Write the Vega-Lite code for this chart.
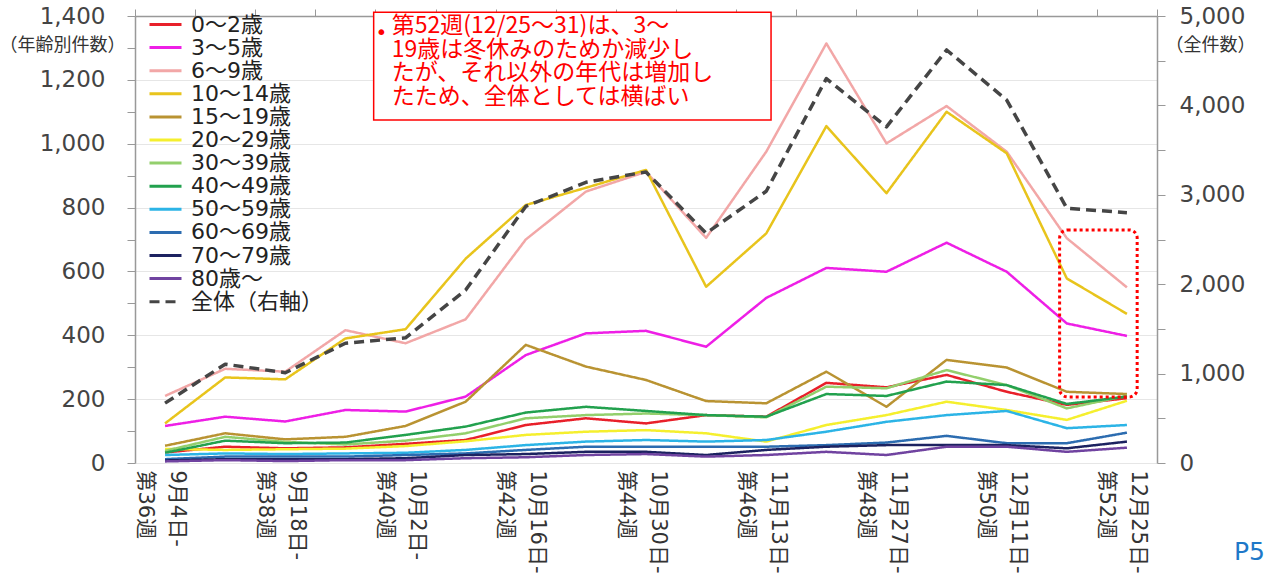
{
  "$schema": "https://vega.github.io/schema/vega-lite/v6.json",
  "width": 1022,
  "height": 447,
  "autosize": {"type": "none"},
  "padding": {"left": 135, "top": 16, "right": 121, "bottom": 110},
  "background": "white",
  "config": {
    "view": {"stroke": null},
    "font": "DejaVu Sans, Noto Sans CJK JP",
    "line": {"strokeJoin": "round", "strokeCap": "butt"}
  },
  "title": {
    "text": "P5",
    "orient": "bottom",
    "anchor": "end",
    "frame": "group",
    "color": "#1e78c8",
    "fontSize": 25,
    "fontWeight": "normal",
    "font": "DejaVu Sans",
    "dx": 108,
    "offset": -33
  },
  "datasets": {
    "weekly": [
      {"week": 36, "0～2歳": 33, "3～5歳": 116, "6～9歳": 210, "10～14歳": 124, "15～19歳": 54, "20～29歳": 44, "30～39歳": 38, "40～49歳": 32, "50～59歳": 25, "60～69歳": 12, "70～79歳": 8, "80歳～": 5, "全体（右軸）": 670},
      {"week": 37, "0～2歳": 51, "3～5歳": 145, "6～9歳": 295, "10～14歳": 268, "15～19歳": 93, "20～29歳": 41, "30～39歳": 82, "40～49歳": 70, "50～59歳": 30, "60～69歳": 20, "70～79歳": 12, "80歳～": 9, "全体（右軸）": 1105},
      {"week": 38, "0～2歳": 46, "3～5歳": 130, "6～9歳": 286, "10～14歳": 262, "15～19歳": 74, "20～29歳": 43, "30～39歳": 66, "40～49歳": 62, "50～59歳": 28, "60～69歳": 20, "70～79歳": 12, "80歳～": 6, "全体（右軸）": 1010},
      {"week": 39, "0～2歳": 49, "3～5歳": 166, "6～9歳": 416, "10～14歳": 390, "15～19歳": 82, "20～29歳": 45, "30～39歳": 58, "40～49歳": 64, "50～59歳": 30, "60～69歳": 20, "70～79歳": 12, "80歳～": 9, "全体（右軸）": 1340},
      {"week": 40, "0～2歳": 60, "3～5歳": 161, "6～9歳": 375, "10～14歳": 419, "15～19歳": 116, "20～29歳": 53, "30～39歳": 70, "40～49歳": 88, "50～59歳": 32, "60～69歳": 25, "70～79歳": 15, "80歳～": 9, "全体（右軸）": 1400},
      {"week": 41, "0～2歳": 72, "3～5歳": 208, "6～9歳": 450, "10～14歳": 640, "15～19歳": 192, "20～29歳": 68, "30～39歳": 93, "40～49歳": 114, "50～59歳": 41, "60～69歳": 30, "70～79歳": 25, "80歳～": 15, "全体（右軸）": 1935},
      {"week": 42, "0～2歳": 119, "3～5歳": 338, "6～9歳": 700, "10～14歳": 808, "15～19歳": 370, "20～29歳": 88, "30～39歳": 140, "40～49歳": 158, "50～59歳": 56, "60～69歳": 41, "70～79歳": 28, "80歳～": 18, "全体（右軸）": 2870},
      {"week": 43, "0～2歳": 140, "3～5歳": 406, "6～9歳": 850, "10～14歳": 862, "15～19歳": 302, "20～29歳": 98, "30～39歳": 150, "40～49歳": 176, "50～59歳": 67, "60～69歳": 51, "70～79歳": 35, "80歳～": 25, "全体（右軸）": 3140},
      {"week": 44, "0～2歳": 124, "3～5歳": 414, "6～9歳": 912, "10～14歳": 918, "15～19歳": 260, "20～29歳": 103, "30～39歳": 155, "40～49歳": 163, "50～59歳": 72, "60～69歳": 51, "70～79歳": 35, "80歳～": 28, "全体（右軸）": 3255},
      {"week": 45, "0～2歳": 150, "3～5歳": 364, "6～9歳": 705, "10～14歳": 552, "15～19歳": 194, "20～29歳": 93, "30～39歳": 150, "40～49歳": 150, "50～59歳": 67, "60～69歳": 51, "70～79歳": 25, "80歳～": 20, "全体（右軸）": 2570},
      {"week": 46, "0～2歳": 145, "3～5歳": 517, "6～9歳": 975, "10～14歳": 719, "15～19歳": 187, "20～29歳": 67, "30～39歳": 143, "40～49歳": 145, "50～59歳": 72, "60～69歳": 51, "70～79歳": 41, "80歳～": 25, "全体（右軸）": 3040},
      {"week": 47, "0～2歳": 251, "3～5歳": 611, "6～9歳": 1314, "10～14歳": 1055, "15～19歳": 286, "20～29歳": 119, "30～39歳": 239, "40～49歳": 216, "50～59歳": 98, "60～69歳": 56, "70～79歳": 51, "80歳～": 35, "全体（右軸）": 4300},
      {"week": 48, "0～2歳": 237, "3～5歳": 599, "6～9歳": 1001, "10～14歳": 845, "15～19歳": 176, "20～29歳": 150, "30～39歳": 234, "40～49歳": 210, "50～59歳": 129, "60～69歳": 64, "70～79歳": 56, "80歳～": 25, "全体（右軸）": 3760},
      {"week": 49, "0～2歳": 276, "3～5歳": 690, "6～9歳": 1118, "10～14歳": 1100, "15～19歳": 323, "20～29歳": 192, "30～39歳": 291, "40～49歳": 255, "50～59歳": 150, "60～69歳": 85, "70～79歳": 56, "80歳～": 51, "全体（右軸）": 4620},
      {"week": 50, "0～2歳": 223, "3～5歳": 599, "6～9歳": 975, "10～14歳": 970, "15～19歳": 299, "20～29歳": 166, "30～39歳": 244, "40～49歳": 244, "50～59歳": 163, "60～69歳": 62, "70～79歳": 56, "80歳～": 51, "全体（右軸）": 4060},
      {"week": 51, "0～2歳": 182, "3～5歳": 437, "6～9歳": 704, "10～14歳": 578, "15～19歳": 223, "20～29歳": 135, "30～39歳": 171, "40～49歳": 185, "50～59歳": 109, "60～69歳": 62, "70～79歳": 46, "80歳～": 35, "全体（右軸）": 2850},
      {"week": 52, "0～2歳": 203, "3～5歳": 398, "6～9歳": 550, "10～14歳": 467, "15～19歳": 216, "20～29歳": 195, "30～39歳": 211, "40～49歳": 208, "50～59歳": 119, "60～69歳": 95, "70～79歳": 67, "80歳～": 48, "全体（右軸）": 2800}
    ]
  },
  "layer": [
    {
      "data": {"name": "weekly"},
      "transform": [
        {"fold": ["0～2歳", "3～5歳", "6～9歳", "10～14歳", "15～19歳", "20～29歳", "30～39歳", "40～49歳", "50～59歳", "60～69歳", "70～79歳", "80歳～"], "as": ["series", "value"]}
      ],
      "mark": {"type": "line", "strokeWidth": 2.5},
      "encoding": {
        "x": {
          "field": "week", "type": "quantitative",
          "scale": {"domain": [35.5, 52.5], "nice": false, "zero": false},
          "axis": {
            "values": [36, 38, 40, 42, 44, 46, 48, 50, 52],
            "labelExpr": "[timeFormat(datetime(2023, 8, 4 + (datum.value - 36) * 7), '%-m月%-d日-'), '第' + datum.value + '週']",
            "labelAngle": 90,
            "labelFontSize": 21,
            "labelLineHeight": 32,
            "labelOffset": 11,
            "labelColor": "#333",
            "labelPadding": 7,
            "labelOverlap": false,
            "labelFlush": false,
            "ticks": false,
            "tickSize": 0,
            "domain": false,
            "grid": false,
            "title": null
          }
        },
        "y": {
          "field": "value", "type": "quantitative",
          "scale": {"domain": [0, 1400], "nice": false},
          "axis": {
            "orient": "left",
            "values": [0, 100, 200, 300, 400, 500, 600, 700, 800, 900, 1000, 1100, 1200, 1300, 1400],
            "labelExpr": "datum.value % 200 == 0 ? format(datum.value, ',') : ''",
            "labelFontSize": 23,
            "labelColor": "#444",
            "labelPadding": 22,
            "tickSize": 8,
            "tickColor": "#999",
            "domainColor": "#999",
            "domainWidth": 1.5,
            "grid": true,
            "gridColor": {"condition": {"test": "datum.value % 200 == 0", "value": "#e6e6e6"}, "value": "transparent"},
            "title": "（年齢別件数）",
            "titleAngle": 0,
            "titleX": -136,
            "titleY": 29,
            "titleAlign": "left",
            "titleBaseline": "middle",
            "titleFontSize": 18,
            "titleFontWeight": "normal",
            "titleColor": "#333"
          }
        },
        "color": {
          "field": "series", "type": "nominal",
          "scale": {
            "domain": ["0～2歳", "3～5歳", "6～9歳", "10～14歳", "15～19歳", "20～29歳", "30～39歳", "40～49歳", "50～59歳", "60～69歳", "70～79歳", "80歳～", "全体（右軸）"],
            "range": ["#e8202a", "#ee1fe6", "#f2a7a7", "#e8c41c", "#b99332", "#f5ef2e", "#93cf6c", "#22a14e", "#2cb4e6", "#2c6cb0", "#1c2260", "#7043a0", "#454545"]
          },
          "legend": {
            "title": null,
            "orient": "none",
            "legendX": 19,
            "legendY": -3,
            "symbolType": "M-1.6,0H1.6",
            "symbolSize": 400,
            "symbolStrokeWidth": 3,
            "labelFontSize": 22,
            "labelColor": "#222",
            "labelOffset": 14,
            "rowPadding": 0.1,
            "labelLimit": 300,
            "padding": 0
          }
        },
        "strokeDash": {
          "field": "series", "type": "nominal",
          "scale": {
            "domain": ["0～2歳", "3～5歳", "6～9歳", "10～14歳", "15～19歳", "20～29歳", "30～39歳", "40～49歳", "50～59歳", "60～69歳", "70～79歳", "80歳～", "全体（右軸）"],
            "range": [[1, 0], [1, 0], [1, 0], [1, 0], [1, 0], [1, 0], [1, 0], [1, 0], [1, 0], [1, 0], [1, 0], [1, 0], [10, 6]]
          },
          "legend": {
            "title": null,
            "orient": "none",
            "legendX": 19,
            "legendY": -3,
            "symbolType": "M-1.6,0H1.6",
            "symbolSize": 400,
            "symbolStrokeWidth": 3,
            "labelFontSize": 22,
            "labelColor": "#222",
            "labelOffset": 14,
            "rowPadding": 0.1,
            "labelLimit": 300,
            "padding": 0
          }
        }
      }
    },
    {
      "data": {"name": "weekly"},
      "transform": [{"fold": ["全体（右軸）"], "as": ["series", "value"]}],
      "mark": {"type": "line", "strokeWidth": 3.5},
      "encoding": {
        "x": {
          "field": "week", "type": "quantitative",
          "axis": {
            "values": [35.5, 36.5, 37.5, 38.5, 39.5, 40.5, 41.5, 42.5, 43.5, 44.5, 45.5, 46.5, 47.5, 48.5, 49.5, 50.5, 51.5, 52.5],
            "labels": false,
            "tickSize": 7,
            "tickColor": "#999",
            "domainColor": "#999",
            "domainWidth": 1.5,
            "grid": false,
            "title": null
          }
        },
        "y": {
          "field": "value", "type": "quantitative",
          "scale": {"domain": [0, 5000], "nice": false},
          "axis": {
            "orient": "right",
            "values": [0, 500, 1000, 1500, 2000, 2500, 3000, 3500, 4000, 4500, 5000],
            "labelExpr": "datum.value % 1000 == 0 ? format(datum.value, ',') : ''",
            "labelFontSize": 23,
            "labelColor": "#444",
            "labelPadding": 14,
            "tickSize": 8,
            "tickColor": "#999",
            "domainColor": "#999",
            "domainWidth": 1.5,
            "grid": false,
            "title": "（全件数）",
            "titleAngle": 0,
            "titleX": 8,
            "titleY": 29,
            "titleAlign": "left",
            "titleBaseline": "middle",
            "titleFontSize": 18,
            "titleFontWeight": "normal",
            "titleColor": "#333"
          }
        },
        "color": {"field": "series", "type": "nominal"},
        "strokeDash": {"field": "series", "type": "nominal"}
      }
    },
    {
      "data": {"values": [{}]},
      "mark": {"type": "rect", "fill": "white", "stroke": "#ff0000", "strokeWidth": 1.5},
      "encoding": {
        "x": {"datum": 39.47, "type": "quantitative", "axis": null},
        "x2": {"datum": 46.08},
        "y": {"datum": 1412, "type": "quantitative", "scale": {"domain": [0, 1400], "nice": false}, "axis": null},
        "y2": {"datum": 1074}
      }
    },
    {
      "data": {"values": [{"t": "•"}]},
      "mark": {"type": "text", "color": "#ff0000", "fontSize": 20, "align": "left", "baseline": "middle", "font": "DejaVu Sans"},
      "encoding": {
        "x": {"datum": 39.5, "type": "quantitative", "axis": null},
        "y": {"datum": 1347, "type": "quantitative", "scale": {"domain": [0, 1400], "nice": false}, "axis": null},
        "text": {"field": "t", "type": "nominal"}
      }
    },
    {
      "data": {"values": [{"t": "第52週(12/25～31)は、3～\n19歳は冬休みのためか減少し\nたが、それ以外の年代は増加し\nたため、全体としては横ばい"}]},
      "mark": {"type": "text", "lineBreak": "\n", "color": "#ff0000", "fontSize": 23, "lineHeight": 23.7, "align": "left", "baseline": "middle", "font": "Noto Sans CJK JP"},
      "encoding": {
        "x": {"datum": 39.77, "type": "quantitative", "axis": null},
        "y": {"datum": 1369, "type": "quantitative", "scale": {"domain": [0, 1400], "nice": false}, "axis": null},
        "text": {"field": "t", "type": "nominal"}
      }
    },
    {
      "data": {"values": [{}]},
      "mark": {"type": "rect", "fill": "transparent", "stroke": "#ff0000", "strokeWidth": 3, "strokeDash": [3, 3], "cornerRadius": 8},
      "encoding": {
        "x": {"datum": 50.88, "type": "quantitative", "axis": null},
        "x2": {"datum": 52.17},
        "y": {"datum": 730, "type": "quantitative", "scale": {"domain": [0, 1400], "nice": false}, "axis": null},
        "y2": {"datum": 207}
      }
    }
  ],
  "resolve": {"scale": {"y": "independent"}, "axis": {"x": "independent"}}
}
